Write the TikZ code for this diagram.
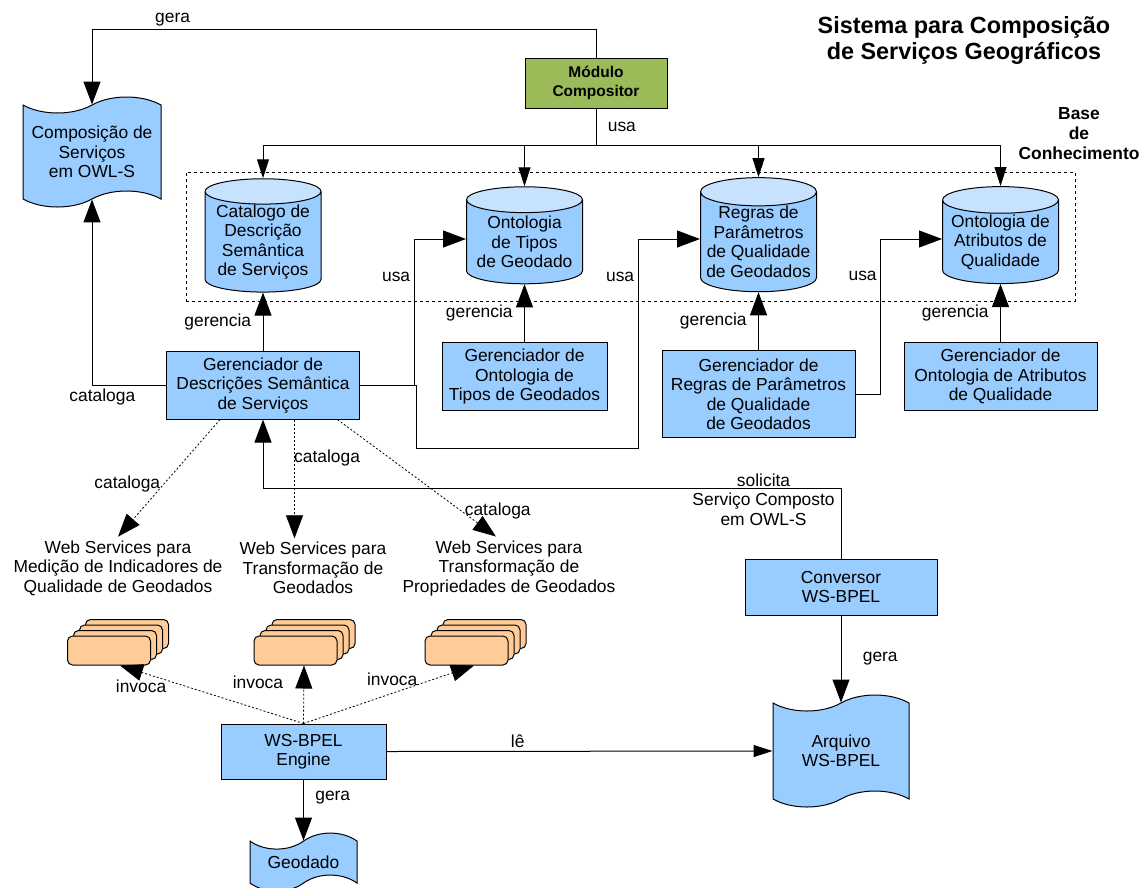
\documentclass[tikz,border=0pt]{standalone}
\usepackage{fontspec}
\setmainfont{Liberation Sans}
\usepackage{tikz}
\usetikzlibrary{arrows.meta, positioning, shapes.geometric, shapes.symbols, shadows}

\definecolor{azulcaixa}{HTML}{99CCFF}
\definecolor{azultopo}{HTML}{C6E2FF}
\definecolor{verdemod}{HTML}{9BBB59}
\definecolor{laranjaws}{HTML}{FFCC99}

\begin{document}
\begin{tikzpicture}[x=1pt, y=-1pt, line width=1pt,
  >={Triangle[length=23pt,width=17pt]},
  font=\fontsize{17.4}{19.5}\selectfont,
  caixa/.style={draw, fill=azulcaixa, align=center, inner sep=2pt, minimum width=193pt, minimum height=68pt},
  base/.style={cylinder, shape border rotate=90, draw, aspect=0.27,
    cylinder uses custom fill, cylinder body fill=azulcaixa, cylinder end fill=azultopo,
    minimum width=116pt, minimum height=97pt, align=center, inner sep=0pt},
  fita/.style={tape, draw, fill=azulcaixa, align=center, tape bend height=16pt},
  pilha/.style={draw, fill=laranjaws, rounded corners=5pt, minimum width=83pt, minimum height=29pt,
    copy shadow={shadow xshift=18pt, shadow yshift=16.5pt},
    double copy shadow={shadow xshift=6pt, shadow yshift=5.5pt}},
  pont/.style={line width=0.8pt, dash pattern=on 2pt off 2pt},
  seta/.style={->, >={Triangle[length=19pt,width=12pt]}}]
\useasboundingbox (0,0) rectangle (1140,887);

% Nós
\node[font=\fontsize{23.4}{25.5}\selectfont\bfseries, align=center] (titulo) at (964,40.5) {Sistema para Composição\\de Serviços Geográficos};
\node[draw, fill=verdemod, minimum width=142pt, minimum height=50pt, align=center,
  font=\fontsize{15.5}{19}\selectfont\bfseries] (modulo) at (596,83) {Módulo\\Compositor};
\node[fita, minimum width=138pt, minimum height=110pt] (owls) at (92,152) {Composição de\\Serviços\\em OWL-S};

\node[draw, line width=0.8pt, dash pattern=on 3pt off 3pt, minimum width=889pt, minimum height=129pt] (bc) at (630.5,236.5) {};
\node[font=\fontsize{17.4}{20}\selectfont\bfseries, align=center] (bcrot) at (1079,134) {Base\\de\\Conhecimento};

\node[base] (cat) at (263,242) {Catalogo de\\Descrição\\Semântica\\de Serviços};
\node[base] (ont) at (524.5,242) {Ontologia\\de Tipos\\de Geodado};
\node[base] (reg) at (758.5,242) {Regras de\\Parâmetros\\de Qualidade\\de Geodados};
\node[base] (atr) at (1000.5,242) {Ontologia de\\Atributos de\\Qualidade};

\node[caixa, below=58pt of cat] (gdesc) {Gerenciador de\\Descrições Semântica\\de Serviços};
\node[caixa, below=58pt of ont, minimum width=165pt] (gont) {Gerenciador de\\Ontologia de\\Tipos de Geodados};
\node[caixa, below=58pt of reg, minimum height=87pt] (greg) {Gerenciador de\\Regras de Parâmetros\\de Qualidade\\de Geodados};
\node[caixa, below=58pt of atr] (gatr) {Gerenciador de\\Ontologia de Atributos\\de Qualidade};

\node[align=center] (wsa) at (118,568) {Web Services para\\Medição de Indicadores de\\Qualidade de Geodados};
\node[align=center] (wsb) at (313,568) {Web Services para\\Transformação de\\Geodados};
\node[align=center] (wsc) at (509,568) {Web Services para\\Transformação de\\Propriedades de Geodados};

\node[pilha] (p1) at (109,650.5) {};
\node[pilha] (p2) at (295.5,650.5) {};
\node[pilha] (p3) at (466.5,650.5) {};

\node[caixa, minimum width=192pt, minimum height=56pt] (conv) at (841,587) {Conversor\\WS-BPEL};
\node[fita, minimum width=136pt, minimum height=112pt] (arq) at (841,751) {Arquivo\\WS-BPEL};
\node[caixa, minimum width=165pt, minimum height=55pt] (eng) at (303.5,751.5) {WS-BPEL\\Engine};
\node[fita, minimum width=107pt, minimum height=58pt, below=61pt of eng] (geo) {Geodado};

% Ligações
\draw[->] (modulo.north) -- ++(0,-28) -| node[pos=0.42, above] {gera} (owls.north);
\draw (modulo.south) -- node[right=8pt] {usa} ++(0,37) coordinate (jusa);
\draw[seta] (jusa) -| (cat.north);
\draw[seta] (jusa) -| (ont.north);
\draw[seta] (jusa) -| (reg.north);
\draw[seta] (jusa) -| (atr.north);

\path[->]
(gdesc) edge node[left=8pt] {gerencia} (cat)
(gont) edge node[left=8pt] {gerencia} (ont)
(greg) edge node[left=8pt] {gerencia} (reg)
(gatr) edge node[left=8pt] {gerencia} (atr);

\draw[->] (gdesc.east) -- ++(54,0) |- node[pos=0.37, left] {usa} ([yshift=3pt]ont.west);
\draw[->] (gdesc.east) -- ++(56,0) |- ++(222,63) |- node[pos=0.41, left] {usa} ([yshift=3pt]reg.west);
\draw[->] (greg.east) -- ++(25,0) |- node[pos=0.38, left] {usa} ([yshift=3pt]atr.west);
\draw[->] (gdesc.west) -| node[pos=0.43, below] {cataloga} (owls.south);

\draw[->, pont] ([xshift=-43pt]gdesc.south) -- node[pos=0.55, left] {cataloga} (wsa.north);
\draw[->, pont] ([xshift=31.5pt]gdesc.south) -- node[pos=0.32, right=-4pt] {cataloga} ([xshift=31.5pt]gdesc.south |- wsb.north);
\draw[->, pont] ([xshift=74.5pt]gdesc.south) -- node[pos=0.78, right] {cataloga} ([xshift=-13pt]wsc.north);

\draw[->] (conv.north) -- ++(0,-70) -| node[pos=0.067, yshift=-11pt, align=center] {solicita\\Serviço Composto\\em OWL-S} (gdesc.south);
\draw[->] (conv.south) -- node[right=18pt] {gera} (arq.north);
\draw[seta] (eng.east) -- node[pos=0.34, above] {lê} (arq.west);
\draw[->] (eng.south) -- node[pos=0.3, right=8pt] {gera} (geo.north);

\draw[->, pont] (eng.north) -- node[pos=0.885, below=4pt] {invoca} ([xshift=11pt]p1.south);
\draw[->, pont] (eng.north) -- node[pos=0.71, left=17pt] {invoca} ([xshift=8.5pt]p2.south);
\draw[->, pont] (eng.north) -- node[pos=0.52, above=4pt] {invoca} ([xshift=7.5pt]p3.south);
\end{tikzpicture}
\end{document}
